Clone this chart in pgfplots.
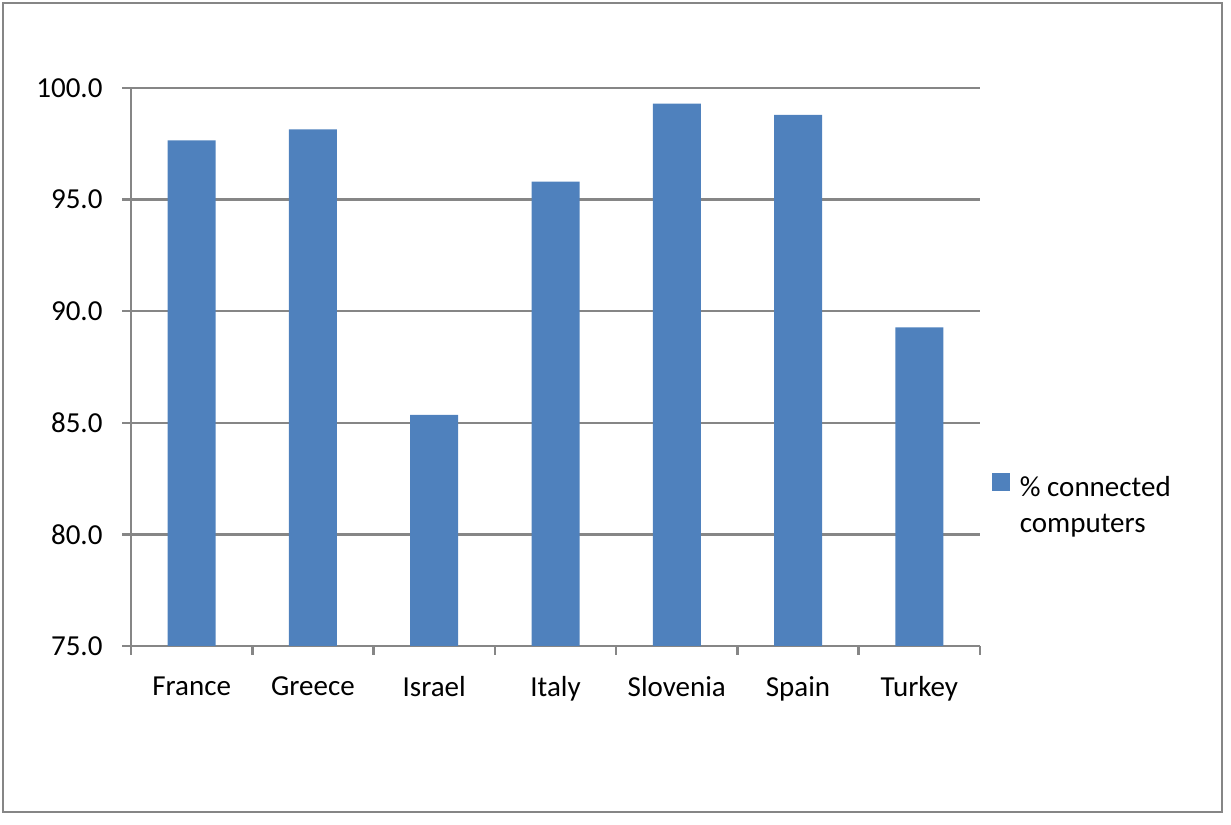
\documentclass[border=0pt]{standalone}
\usepackage{pgfplots}
\pgfplotsset{compat=1.18}
\usepackage{fontspec}
\setmainfont{Carlito}
\definecolor{barblue}{HTML}{4F81BD}
\definecolor{gridgray}{HTML}{868686}
\begin{document}
\begin{tikzpicture}[x=1bp,y=1bp,font=\fontsize{29bp}{36bp}\selectfont]
\useasboundingbox (0,0) rectangle (1231,825);
\draw[gridgray,line width=2.5bp] (3,13) rectangle (1222,822);
\begin{axis}[
  at={(131bp,179bp)}, anchor=south west,
  scale only axis, width=849bp, height=558bp,
  xmin=0.5, xmax=7.5, ymin=75, ymax=100,
  axis x line*=bottom, axis y line*=left,
  axis line style={gridgray, line width=2.5bp, -},
  ytick={75,80,85,90,95,100},
  ymajorgrids, grid style={gridgray, line width=2.5bp},
  tick style={gridgray, line width=2.5bp},
  tick align=outside, major tick length=9bp,
  yticklabel style={xshift=-16bp, /pgf/number format/.cd, fixed, fixed zerofill, precision=1, assume math mode=true},
  xtick={0.5,1.5,...,7.5}, xticklabels={},
  extra x ticks={1,2,3,4,5,6,7},
  extra x tick labels={France,Greece,Israel,Italy,Slovenia,Spain,Turkey},
  extra x tick style={major tick length=0pt, tick style={draw=none}, xticklabel style={yshift=-27bp}},
  legend style={draw=none, fill=none, at={(1.014,0.310)}, anchor=north west,
    inner sep=0pt, outer sep=0pt, cells={align=left}},
  legend cell align=left,
  legend image code/.code={\fill[barblue] (0bp,14bp) rectangle (18bp,32bp); \path (26bp,0bp);},
]
\addplot[ybar, bar width=48bp, fill=barblue, draw=none] coordinates {
  (1,97.65) (2,98.15) (3,85.35) (4,95.8) (5,99.3) (6,98.8) (7,89.28)
};
\addlegendentry{\% connected\\computers}
\end{axis}
\end{tikzpicture}
\end{document}
